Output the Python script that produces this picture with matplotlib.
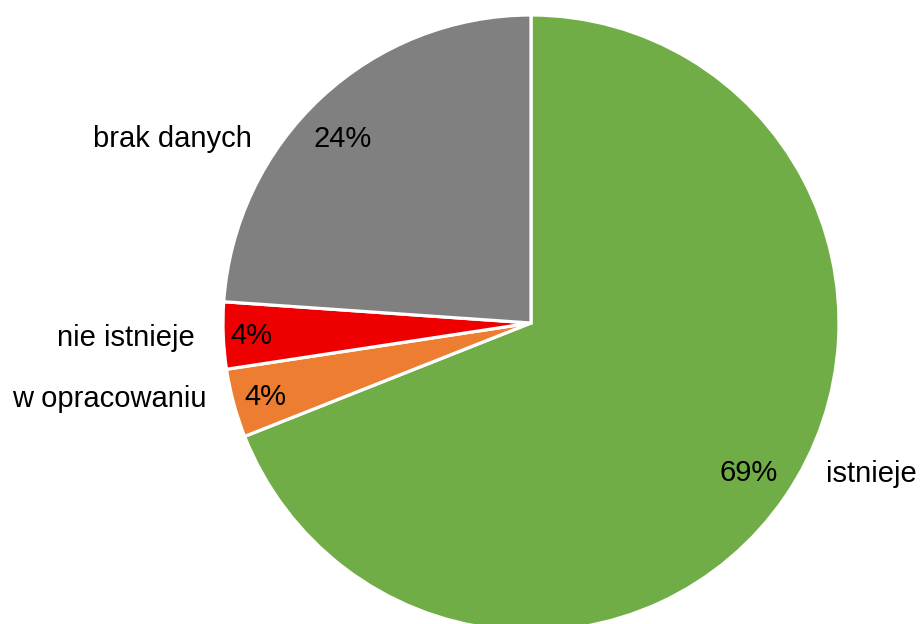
import matplotlib
matplotlib.use("Agg")
import matplotlib.pyplot as plt
import numpy as np

categories = ["istnieje", "w opracowaniu", "nie istnieje", "brak danych"]
values = [69.0, 3.6, 3.5, 23.9]
pct_labels = ["69%", "4%", "4%", "24%"]
colors = ["#70AD47", "#ED7D31", "#EE0000", "#808080"]

plt.rcParams['font.family'] = ['Liberation Sans', 'DejaVu Sans']

fig = plt.figure(figsize=(9.21, 6.24), dpi=100)
ax = fig.add_axes([0, 0, 1, 1])
R = 308.0
cx, cy = 531.0, 323.0

wedges, _ = ax.pie(values, colors=colors, startangle=90, counterclock=False,
                   wedgeprops=dict(edgecolor='white', linewidth=2.3))
ax.set_xlim(-cx / R, (921 - cx) / R)
ax.set_ylim((cy - 624) / R, cy / R)
ax.set_aspect('equal')
ax.axis('off')

fs = 21
pct_r = [0.855, 0.895, 0.91, 0.86]
pct_da = [0.0, 0.0, 0.0, 2.3]
dy = -0.0065
for w, lab, r, da in zip(wedges, pct_labels, pct_r, pct_da):
    ang = np.deg2rad((w.theta1 + w.theta2) / 2 + da)
    ax.text(r * np.cos(ang), r * np.sin(ang) + dy, lab, ha='center', va='center',
            fontsize=fs, color='black')

# category labels
label_pos = {
    "istnieje": (0.958, -0.484, 'left'),
    "w opracowaniu": (-1.055, -0.240, 'right'),
    "nie istnieje": (-1.091, -0.042, 'right'),
    "brak danych": (-0.906, 0.604, 'right'),
}
for c in categories:
    x, y, ha = label_pos[c]
    ax.text(x, y + dy, c, ha=ha, va='center', fontsize=fs, color='black')

fig.savefig("out.png", dpi=100)
